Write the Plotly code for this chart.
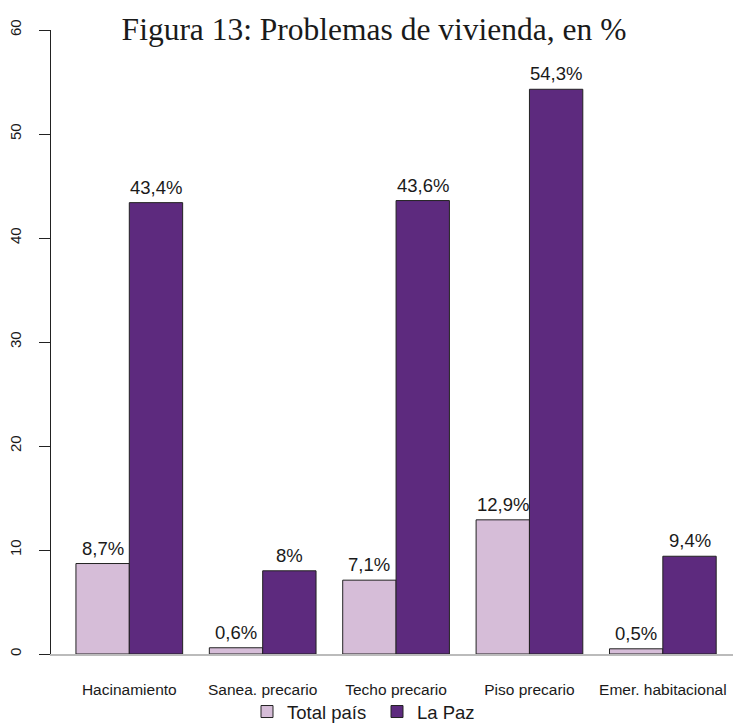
import plotly.graph_objects as go

categories = ["Hacinamiento", "Sanea. precario", "Techo precario", "Piso precario", "Emer. habitacional"]
total_pais = [8.7, 0.6, 7.1, 12.9, 0.5]
la_paz = [43.4, 8.0, 43.6, 54.3, 9.4]
series_names = ["Total país", "La Paz"]
y_ticks = [0, 10, 20, 30, 40, 50, 60]

LIGHT = "#D6BDD8"
DARK = "#5D2A7E"
SANS = "Liberation Sans, Arial, sans-serif"

W, H = 733, 725
L, T, B = 51, 30, 71
PW, PH = W - L, H - T - B


def fmt(v):
    return f"{v:g}".replace(".", ",") + "%"


idx = list(range(len(categories)))
fig = go.Figure()
for name, vals, col in [(series_names[0], total_pais, LIGHT), (series_names[1], la_paz, DARK)]:
    fig.add_trace(go.Bar(
        x=idx, y=vals, name=name, marker=dict(color=col, line=dict(color="#222222", width=1)),
        hoverinfo="skip",
    ))

annotations = []
for i in idx:
    for off, vals in [(-0.2, total_pais), (0.2, la_paz)]:
        annotations.append(dict(
            x=i + off, y=vals[i], xref="x", yref="y", text=fmt(vals[i]),
            showarrow=False, yanchor="bottom", yshift=3,
            font=dict(family=SANS, size=18.5, color="#1a1a1a"),
        ))

fig.update_layout(
    width=W, height=H,
    margin=dict(l=L, r=0, t=T, b=B, autoexpand=False),
    paper_bgcolor="white", plot_bgcolor="white",
    barmode="group", bargap=0.2, bargroupgap=0,
    hovermode=False,
    title=dict(text="Figura 13: Problemas de vivienda, en %", x=374 / W, xanchor="center",
               y=1 - 29 / H, yanchor="middle",
               font=dict(family="Liberation Serif, serif", size=31.5, color="#1a1a1a")),
    xaxis=dict(range=[-0.587, 4.526], tickvals=idx, ticktext=categories, showgrid=False,
               zeroline=False, showline=True, linecolor="#BBBBBB", linewidth=2,
               ticks="", ticklabelstandoff=20,
               tickfont=dict(family=SANS, size=15.5, color="#1a1a1a")),
    yaxis=dict(range=[0, 60], tickvals=y_ticks, showgrid=False, zeroline=False,
               showline=True, linecolor="#222222", linewidth=1,
               ticks="outside", ticklen=11, tickcolor="#222222", tickwidth=1,
               tickangle=-90, ticklabelstandoff=12,
               tickfont=dict(family=SANS, size=15, color="#1a1a1a")),
    legend=dict(orientation="h", x=(377 - L) / PW, xanchor="center",
                y=(PH + T - 712) / PH, yanchor="middle", entrywidth=85, entrywidthmode="pixels",
                font=dict(family=SANS, size=18.5, color="#1a1a1a"),
                bgcolor="rgba(0,0,0,0)"),
    annotations=annotations,
    showlegend=True,
)

fig.write_html("out.html", config={"displayModeBar": False},
               post_script="document.body.style.margin='0px';")
